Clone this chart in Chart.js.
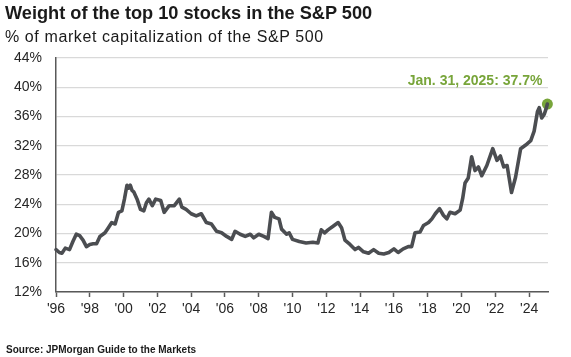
<!DOCTYPE html>
<html>
<head>
<meta charset="utf-8">
<script src="https://cdn.jsdelivr.net/npm/chart.js@4.4.1/dist/chart.umd.min.js"></script>
<style>
  html, body { margin: 0; padding: 0; background: #ffffff; }
  body { width: 571px; height: 357px; position: relative; overflow: hidden; font-family: "Liberation Sans", Arial, sans-serif; }
  #title { position: absolute; left: 5px; top: 3px; font-size: 18.2px; font-weight: bold; color: #1a1a1a; white-space: nowrap; }
  #subtitle { position: absolute; left: 5px; top: 28px; font-size: 16px; letter-spacing: 0.6px; color: #1a1a1a; white-space: nowrap; }
  #source { position: absolute; left: 6px; top: 344px; font-size: 10px; font-weight: bold; color: #1a1a1a; white-space: nowrap; }
  #wrap { position: absolute; left: 0; top: 0; width: 571px; height: 357px; }
</style>
</head>
<body>
<div id="wrap"><canvas id="c" width="571" height="357"></canvas></div>
<div id="title">Weight of the top 10 stocks in the S&amp;P 500</div>
<div id="subtitle">% of market capitalization of the S&amp;P 500</div>
<div id="source">Source: JPMorgan Guide to the Markets</div>
<script>
// Dates as decimal years
const dates = [
  1996.0, 1996.2, 1996.35, 1996.55, 1996.8, 1997.0, 1997.2, 1997.4, 1997.6, 1997.8,
  1998.0, 1998.2, 1998.4, 1998.6, 1998.9, 1999.1, 1999.3, 1999.5, 1999.7, 1999.9,
  2000.05, 2000.2, 2000.3, 2000.4, 2000.5, 2000.6, 2000.8, 2001.0, 2001.2, 2001.35,
  2001.5, 2001.7, 2001.9, 2002.2, 2002.4, 2002.7, 2003.0, 2003.3, 2003.45, 2003.7,
  2004.0, 2004.3, 2004.6, 2004.9, 2005.2, 2005.5, 2005.8, 2006.1, 2006.4, 2006.6,
  2006.9, 2007.2, 2007.5, 2007.7, 2008.0, 2008.3, 2008.55, 2008.75, 2008.95, 2009.2,
  2009.35, 2009.65, 2009.8, 2010.0, 2010.4, 2010.8, 2011.2, 2011.5, 2011.7, 2011.9,
  2012.1, 2012.4, 2012.7, 2012.9, 2013.1, 2013.4, 2013.7, 2013.9, 2014.2, 2014.5,
  2014.8, 2015.1, 2015.4, 2015.7, 2016.0, 2016.25, 2016.55, 2016.85, 2017.05, 2017.25,
  2017.55, 2017.75, 2018.05, 2018.25, 2018.45, 2018.7, 2018.93, 2019.13, 2019.32, 2019.62,
  2019.92, 2020.07, 2020.21, 2020.4, 2020.6, 2020.8, 2021.0, 2021.2, 2021.5, 2021.85,
  2022.1, 2022.3, 2022.5, 2022.7, 2022.96, 2023.2, 2023.5, 2023.8, 2024.1, 2024.3,
  2024.5, 2024.6, 2024.75, 2024.9, 2025.0, 2025.083
];
// Weight of top 10 stocks (% of S&P 500 market cap)
const weights = [
  17.8, 17.4, 17.3, 18.0, 17.8, 18.9, 19.9, 19.7, 19.1, 18.2,
  18.5, 18.6, 18.6, 19.6, 20.1, 20.8, 21.5, 21.3, 22.9, 23.1,
  24.7, 26.6, 26.2, 26.6, 25.9, 25.7, 24.7, 23.3, 23.1, 24.2,
  24.7, 23.8, 24.7, 24.5, 22.9, 23.8, 23.8, 24.7, 23.6, 23.3,
  22.7, 22.4, 22.7, 21.5, 21.3, 20.3, 20.1, 19.6, 19.2, 20.3,
  19.9, 19.6, 19.9, 19.4, 19.9, 19.6, 19.3, 22.9, 22.2, 22.0,
  20.6, 19.9, 20.1, 19.2, 18.9, 18.7, 18.8, 18.7, 20.5, 20.1,
  20.5, 21.0, 21.5, 20.8, 19.1, 18.5, 17.8, 18.1, 17.5, 17.3,
  17.8, 17.3, 17.2, 17.4, 17.9, 17.4, 17.9, 18.2, 18.2, 20.1,
  20.2, 21.1, 21.5, 22.0, 22.7, 23.4, 22.5, 22.0, 22.9, 22.7,
  23.2, 24.8, 26.9, 27.6, 30.5, 28.6, 29.1, 27.9, 29.3, 31.6,
  30.0, 30.6, 29.1, 29.3, 25.6, 27.7, 31.6, 32.1, 32.7, 34.0,
  36.7, 37.2, 35.8, 36.3, 37.0, 37.7
];
const yearTicks = [1996, 1998, 2000, 2002, 2004, 2006, 2008, 2010, 2012, 2014, 2016, 2018, 2020, 2022, 2024];
const yTicks = [12, 16, 20, 24, 28, 32, 36, 40, 44];
const latestLabel = "Jan. 31, 2025: 37.7%";

const seriesPoints = dates.map((d, i) => ({ x: d, y: weights[i] }));
const lastPoint = [{ x: dates[dates.length - 1], y: weights[weights.length - 1] }];

const GREEN = '#78a53a';

const annotationPlugin = {
  id: 'latestAnno',
  afterDatasetsDraw(chart) {
    const meta = chart.getDatasetMeta(1);
    const pt = meta.data[0];
    if (!pt) return;
    const ctx = chart.ctx;
    ctx.save();
    ctx.font = 'bold 14px "Liberation Sans", Arial, sans-serif';
    ctx.fillStyle = GREEN;
    ctx.textAlign = 'right';
    ctx.textBaseline = 'middle';
    ctx.fillText(latestLabel, pt.x - 5, pt.y - 23);
    ctx.restore();
  }
};

new Chart(document.getElementById('c'), {
  type: 'line',
  data: {
    datasets: [
      {
        data: seriesPoints,
        borderColor: '#4b4d51',
        borderWidth: 3.6,
        pointRadius: 0,
        tension: 0,
        clip: false,
        borderJoinStyle: 'round',
        borderCapStyle: 'round'
      },
      {
        data: lastPoint,
        showLine: false,
        clip: false,
        pointRadius: 5.5,
        pointBackgroundColor: GREEN,
        pointBorderColor: GREEN,
        pointBorderWidth: 0
      }
    ]
  },
  options: {
    responsive: false,
    animation: false,
    events: [],
    layout: { padding: { top: 58, right: 23, bottom: 35, left: 0 } },
    plugins: { legend: { display: false }, tooltip: { enabled: false } },
    scales: {
      x: {
        type: 'linear',
        min: 1996,
        max: 2025.12,
        afterBuildTicks(scale) { scale.ticks = yearTicks.map(v => ({ value: v })); },
        afterFit(scale) { scale.height = 30; },
        ticks: {
          autoSkip: false,
          maxRotation: 0,
          padding: 4,
          color: '#262626',
          font: { family: '"Liberation Sans", Arial, sans-serif', size: 14 },
          callback: (v) => "'" + String(v).slice(2)
        },
        grid: { drawOnChartArea: false, drawTicks: true, tickLength: 5, tickColor: '#595959', tickWidth: 1.5 },
        border: { display: true, color: '#595959', width: 1.5 }
      },
      y: {
        min: 12,
        max: 44,
        afterBuildTicks(scale) { scale.ticks = yTicks.map(v => ({ value: v })); },
        afterFit(scale) { scale.width = 56; },
        ticks: {
          padding: 14,
          color: '#262626',
          font: { family: '"Liberation Sans", Arial, sans-serif', size: 14 },
          callback: (v) => v + '%'
        },
        grid: { color: '#d9d9d9', lineWidth: 1.3, drawTicks: false },
        border: { display: true, color: '#595959', width: 1.5 }
      }
    }
  },
  plugins: [annotationPlugin]
});
</script>
</body>
</html>
